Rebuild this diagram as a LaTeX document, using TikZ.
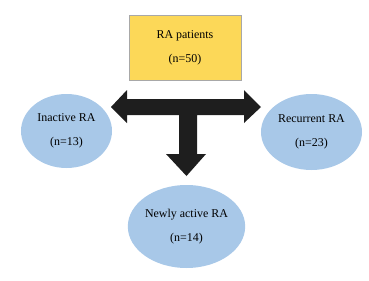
\documentclass[tikz,border=0pt]{standalone}
\usepackage{fontspec}
\setmainfont{Liberation Serif}
\usetikzlibrary{shapes.geometric}
\definecolor{boxyellow}{HTML}{FCD858}
\definecolor{boxedge}{HTML}{A8A8A8}
\definecolor{ellblue}{HTML}{A8C8E8}
\definecolor{arrowblack}{HTML}{1E1E1E}
\tikzset{
  lbl/.style={align=center, font=\fontsize{12}{24}\selectfont, text=black},
  yellowbox/.style={lbl, rectangle, fill=boxyellow, draw=boxedge, line width=0.6pt, minimum width=112bp, minimum height=65bp, inner sep=0pt},
  blueell/.style={lbl, ellipse, fill=ellblue, draw=none, inner sep=0pt},
  blockarrow/.style={fill=arrowblack, draw=none}
}
\begin{document}
\begin{tikzpicture}[x=1bp, y=-1bp]
\useasboundingbox (0,0) rectangle (369,281);
\node[yellowbox] (top) at (185,47.5) {RA patients\\(n=50)};
\node[blueell, minimum width=91bp, minimum height=74bp] (left) at (66.5,131) {Inactive RA\\(n=13)};
\node[blueell, minimum width=101bp, minimum height=76bp] (right) at (311.5,132) {Recurrent RA\\(n=23)};
\node[blueell, minimum width=113bp, minimum height=83bp] (bottom) at (186.5,226.5) {Newly active RA\\(n=14)};
\fill[blockarrow] (111,107) -- (127,90) -- (127,99) -- (244,99) -- (244,90) -- (261,107)
  -- (244,123) -- (244,115) -- (197,115) -- (197,154) -- (206,154) -- (186.5,176)
  -- (166,154) -- (179,154) -- (179,115) -- (127,115) -- (127,123) -- cycle;
\end{tikzpicture}
\end{document}
